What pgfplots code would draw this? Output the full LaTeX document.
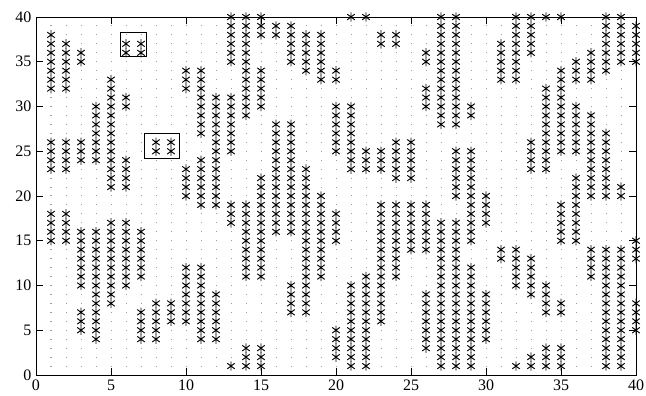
\documentclass[border=0pt]{standalone}
\usepackage{fontspec}
\setmainfont{Liberation Serif}
\usepackage{pgfplots}
\pgfplotsset{compat=1.18}
% asterisk with a vertical stroke and two diagonals
\pgfdeclareplotmark{zh}{%
  \pgfpathmoveto{\pgfqpoint{0pt}{\pgfplotmarksize}}%
  \pgfpathlineto{\pgfqpoint{0pt}{-\pgfplotmarksize}}%
  \pgfpathmoveto{\pgfqpoint{-0.8\pgfplotmarksize}{0.6\pgfplotmarksize}}%
  \pgfpathlineto{\pgfqpoint{0.8\pgfplotmarksize}{-0.6\pgfplotmarksize}}%
  \pgfpathmoveto{\pgfqpoint{-0.8\pgfplotmarksize}{-0.6\pgfplotmarksize}}%
  \pgfpathlineto{\pgfqpoint{0.8\pgfplotmarksize}{0.6\pgfplotmarksize}}%
  \pgfusepathqstroke}
\begin{document}
\begin{tikzpicture}
\begin{axis}[
  at={(0,0)}, anchor=south west,
  scale only axis, width=450pt, height=268.5pt,
  xmin=0, xmax=40, ymin=0, ymax=40,
  xtick={0,5,...,40}, ytick={0,5,...,40},
  minor xtick={1,2,...,39},
  xminorgrids=true,
  minor tick length=0pt,
  minor grid style={gray!75, line width=0.75pt, dash pattern=on 0.75pt off 5.9625pt, dash phase=0.375pt},
  major tick length=5pt, tick align=inside,
  tick style={black, line width=0.5pt},
  axis line style={black, line width=0.6pt},
  tick label style={font=\fontsize{12}{14}\selectfont},
  /pgf/number format/assume math mode=true,
  clip=false,
]
% occupied cells, one column of the lattice per line
\addplot[only marks, mark=zh, mark size=3.5pt, mark options={black, line width=0.7pt}] coordinates {
(1,15)(1,16)(1,17)(1,18)(1,23)(1,24)(1,25)(1,26)(1,32)(1,33)(1,34)(1,35)(1,36)(1,37)(1,38)
(2,15)(2,16)(2,17)(2,18)(2,23)(2,24)(2,25)(2,26)(2,32)(2,33)(2,34)(2,35)(2,36)(2,37)
(3,5)(3,6)(3,7)(3,10)(3,11)(3,12)(3,13)(3,14)(3,15)(3,16)(3,24)(3,25)(3,26)(3,35)(3,36)
(4,4)(4,5)(4,6)(4,7)(4,8)(4,9)(4,10)(4,11)(4,12)(4,13)(4,14)(4,15)(4,16)(4,24)(4,25)(4,26)(4,27)(4,28)(4,29)(4,30)
(5,8)(5,9)(5,10)(5,11)(5,12)(5,13)(5,14)(5,15)(5,16)(5,17)(5,21)(5,22)(5,23)(5,24)(5,25)(5,26)(5,27)(5,28)(5,29)(5,30)(5,31)(5,32)(5,33)
(6,10)(6,11)(6,12)(6,13)(6,14)(6,15)(6,16)(6,17)(6,21)(6,22)(6,23)(6,24)(6,30)(6,31)(6,36)(6,37)
(7,4)(7,5)(7,6)(7,7)(7,11)(7,12)(7,13)(7,14)(7,15)(7,16)(7,36)(7,37)
(8,4)(8,5)(8,6)(8,7)(8,8)(8,25)(8,26)
(9,6)(9,7)(9,8)(9,25)(9,26)
(10,6)(10,7)(10,8)(10,9)(10,10)(10,11)(10,12)(10,20)(10,21)(10,22)(10,23)(10,32)(10,33)(10,34)
(11,4)(11,5)(11,6)(11,7)(11,8)(11,9)(11,10)(11,11)(11,12)(11,19)(11,20)(11,21)(11,22)(11,23)(11,24)(11,27)(11,28)(11,29)(11,30)(11,31)(11,32)(11,33)(11,34)
(12,4)(12,5)(12,6)(12,7)(12,8)(12,9)(12,19)(12,20)(12,21)(12,22)(12,23)(12,24)(12,25)(12,26)(12,27)(12,28)(12,29)(12,30)(12,31)
(13,1)(13,17)(13,18)(13,19)(13,25)(13,26)(13,27)(13,28)(13,29)(13,30)(13,31)(13,35)(13,36)(13,37)(13,38)(13,39)(13,40)
(14,1)(14,2)(14,3)(14,11)(14,12)(14,13)(14,14)(14,15)(14,16)(14,17)(14,18)(14,19)(14,29)(14,30)(14,31)(14,32)(14,33)(14,34)(14,35)(14,36)(14,37)(14,38)(14,39)(14,40)
(15,1)(15,2)(15,3)(15,11)(15,12)(15,13)(15,14)(15,15)(15,16)(15,17)(15,18)(15,19)(15,20)(15,21)(15,22)(15,30)(15,31)(15,32)(15,33)(15,34)(15,38)(15,39)(15,40)
(16,16)(16,17)(16,18)(16,19)(16,20)(16,21)(16,22)(16,23)(16,24)(16,25)(16,26)(16,27)(16,28)(16,38)(16,39)
(17,7)(17,8)(17,9)(17,10)(17,16)(17,17)(17,18)(17,19)(17,20)(17,21)(17,22)(17,23)(17,24)(17,25)(17,26)(17,27)(17,28)(17,35)(17,36)(17,37)(17,38)(17,39)
(18,7)(18,8)(18,9)(18,10)(18,11)(18,12)(18,13)(18,14)(18,15)(18,16)(18,17)(18,18)(18,19)(18,20)(18,21)(18,22)(18,23)(18,34)(18,35)(18,36)(18,37)(18,38)
(19,11)(19,12)(19,13)(19,14)(19,15)(19,16)(19,17)(19,18)(19,19)(19,20)(19,33)(19,34)(19,35)(19,36)(19,37)(19,38)
(20,2)(20,3)(20,4)(20,5)(20,15)(20,16)(20,17)(20,18)(20,25)(20,26)(20,27)(20,28)(20,29)(20,30)(20,33)(20,34)
(21,1)(21,2)(21,3)(21,4)(21,5)(21,6)(21,7)(21,8)(21,9)(21,10)(21,23)(21,24)(21,25)(21,26)(21,27)(21,28)(21,29)(21,30)(21,40)
(22,1)(22,2)(22,3)(22,4)(22,5)(22,6)(22,7)(22,8)(22,9)(22,10)(22,11)(22,23)(22,24)(22,25)(22,40)
(23,6)(23,7)(23,8)(23,9)(23,10)(23,11)(23,12)(23,13)(23,14)(23,15)(23,16)(23,17)(23,18)(23,19)(23,23)(23,24)(23,25)(23,37)(23,38)
(24,11)(24,12)(24,13)(24,14)(24,15)(24,16)(24,17)(24,18)(24,19)(24,22)(24,23)(24,24)(24,25)(24,26)(24,37)(24,38)
(25,14)(25,15)(25,16)(25,17)(25,18)(25,19)(25,22)(25,23)(25,24)(25,25)(25,26)
(26,3)(26,4)(26,5)(26,6)(26,7)(26,8)(26,9)(26,14)(26,15)(26,16)(26,17)(26,18)(26,19)(26,30)(26,31)(26,32)(26,35)(26,36)
(27,1)(27,2)(27,3)(27,4)(27,5)(27,6)(27,7)(27,8)(27,9)(27,10)(27,11)(27,12)(27,13)(27,14)(27,15)(27,16)(27,17)(27,28)(27,29)(27,30)(27,31)(27,32)(27,33)(27,34)(27,35)(27,36)(27,37)(27,38)(27,39)(27,40)
(28,1)(28,2)(28,3)(28,4)(28,5)(28,6)(28,7)(28,8)(28,9)(28,10)(28,11)(28,12)(28,13)(28,14)(28,15)(28,16)(28,17)(28,20)(28,21)(28,22)(28,23)(28,24)(28,25)(28,28)(28,29)(28,30)(28,31)(28,32)(28,33)(28,34)(28,35)(28,36)(28,37)(28,38)(28,39)(28,40)
(29,1)(29,2)(29,3)(29,4)(29,5)(29,6)(29,7)(29,8)(29,9)(29,10)(29,11)(29,12)(29,15)(29,16)(29,17)(29,18)(29,19)(29,20)(29,21)(29,22)(29,23)(29,24)(29,25)(29,29)(29,30)
(30,4)(30,5)(30,6)(30,7)(30,8)(30,9)(30,17)(30,18)(30,19)(30,20)
(31,13)(31,14)(31,33)(31,34)(31,35)(31,36)(31,37)
(32,1)(32,10)(32,11)(32,12)(32,13)(32,14)(32,33)(32,34)(32,35)(32,36)(32,37)(32,38)(32,39)(32,40)
(33,1)(33,2)(33,9)(33,10)(33,11)(33,12)(33,13)(33,23)(33,24)(33,25)(33,26)(33,36)(33,37)(33,38)(33,39)(33,40)
(34,1)(34,2)(34,3)(34,7)(34,8)(34,9)(34,10)(34,23)(34,24)(34,25)(34,26)(34,27)(34,28)(34,29)(34,30)(34,31)(34,32)(34,40)
(35,1)(35,2)(35,3)(35,7)(35,8)(35,15)(35,16)(35,17)(35,18)(35,19)(35,25)(35,26)(35,27)(35,28)(35,29)(35,30)(35,31)(35,32)(35,33)(35,34)(35,40)
(36,15)(36,16)(36,17)(36,18)(36,19)(36,20)(36,21)(36,22)(36,25)(36,26)(36,27)(36,28)(36,29)(36,30)(36,33)(36,34)(36,35)
(37,11)(37,12)(37,13)(37,14)(37,20)(37,21)(37,22)(37,23)(37,24)(37,25)(37,26)(37,27)(37,28)(37,29)(37,33)(37,34)(37,35)(37,36)
(38,1)(38,2)(38,3)(38,4)(38,5)(38,6)(38,7)(38,8)(38,9)(38,10)(38,11)(38,12)(38,13)(38,14)(38,20)(38,21)(38,22)(38,23)(38,24)(38,25)(38,26)(38,27)(38,34)(38,35)(38,36)(38,37)(38,38)(38,39)(38,40)
(39,1)(39,2)(39,3)(39,4)(39,5)(39,6)(39,7)(39,8)(39,9)(39,10)(39,11)(39,12)(39,13)(39,14)(39,20)(39,21)(39,35)(39,36)(39,37)(39,38)(39,39)(39,40)
(40,5)(40,6)(40,7)(40,8)(40,13)(40,14)(40,15)(40,35)(40,36)(40,37)(40,38)(40,39)
};
% highlighted pairs
\draw[black, line width=0.6pt] (axis cs:5.6,35.6) rectangle (axis cs:7.35,38.3);
\draw[black, line width=0.6pt] (axis cs:7.25,24.2) rectangle (axis cs:9.55,27.0);
\end{axis}
\pgfresetboundingbox
\path[use as bounding box] (-27pt,-15.75pt) rectangle (457.5pt,281.25pt);
\end{tikzpicture}
\end{document}
